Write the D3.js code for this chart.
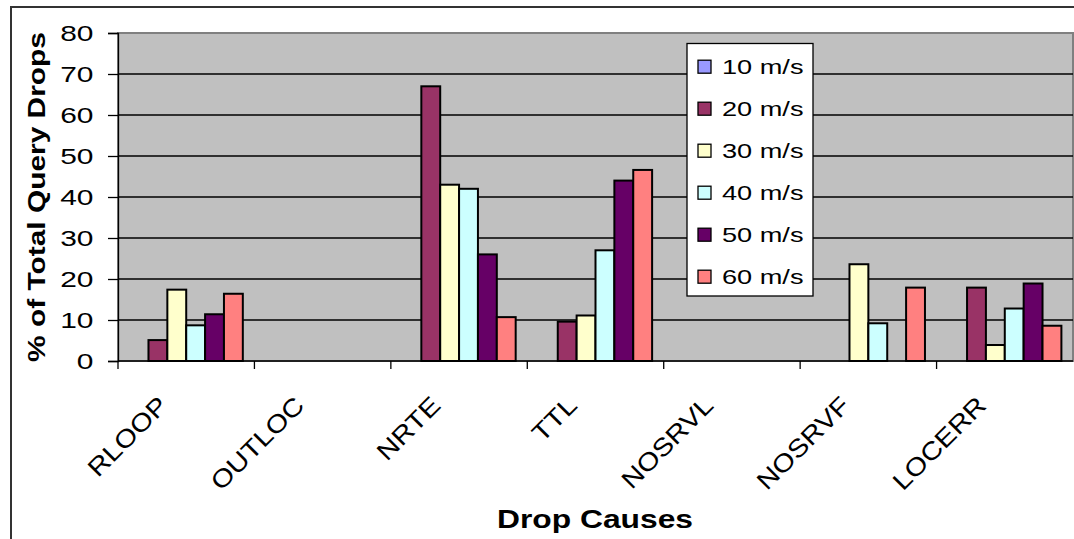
<!DOCTYPE html>
<html>
<head>
<meta charset="utf-8">
<script src="https://cdn.jsdelivr.net/npm/d3@7"></script>
<style>
  body { margin: 0; background: #fff; }
  svg { display: block; }
  text { font-family: "Liberation Sans", Arial, sans-serif; }
</style>
</head>
<body>
<script>
// data
var categories = ["RLOOP", "OUTLOC", "NRTE", "TTL", "NOSRVL", "NOSRVF", "LOCERR"];
var seriesNames = ["10 m/s", "20 m/s", "30 m/s", "40 m/s", "50 m/s", "60 m/s"];
var s10 = [0, 0, 0, 0, 0, 0, 0];
var s20 = [5.1, 0, 67, 9.6, 0, 0, 17.9];
var s30 = [17.4, 0, 43, 11.1, 0, 23.6, 3.9];
var s40 = [8.7, 0, 42, 27, 0, 9.2, 12.8];
var s50 = [11.4, 0, 26, 44, 0, 0, 18.9];
var s60 = [16.4, 0, 10.7, 46.6, 0, 17.9, 8.6];
var yTicks = [0, 10, 20, 30, 40, 50, 60, 70, 80];
var colors = ["#9999FF", "#993366", "#FFFFCC", "#CCFFFF", "#660066", "#FF8080"];

var allSeries = [s10, s20, s30, s40, s50, s60];

var w = 1074;
var h = 539;
var plot = {left: 118, top: 33, right: 1073, bottom: 361};
var sx = 1.36;   // the reference's text is drawn wider than plain Arial
var sxCat = 1.15;

var svg = d3.select("body")
    .append("svg")
    .attr("width", w)
    .attr("height", h);

// outer chart border (runs off the right and bottom)
svg.append("rect")
    .attr("x", 11).attr("y", 7)
    .attr("width", 1100).attr("height", 600)
    .attr("fill", "#fff")
    .attr("stroke", "#333")
    .attr("stroke-width", 2);

var x0 = d3.scaleBand()
    .domain(categories)
    .range([plot.left, plot.right]);

var x1 = d3.scaleBand()
    .domain(seriesNames)
    .range([0, x0.bandwidth()])
    .paddingOuter(0.615);

var y = d3.scaleLinear()
    .domain([0, 80])
    .range([plot.bottom, plot.top]);

// plot area
svg.append("rect")
    .attr("x", plot.left).attr("y", plot.top)
    .attr("width", plot.right - plot.left)
    .attr("height", plot.bottom - plot.top)
    .attr("fill", "#C0C0C0")
    .attr("stroke", "#808080")
    .attr("stroke-width", 2);

// gridlines
svg.append("g")
    .selectAll("line")
    .data(yTicks.filter(d => d > 0 && d < 80))
    .enter()
    .append("line")
    .attr("x1", plot.left).attr("x2", plot.right)
    .attr("y1", d => y(d)).attr("y2", d => y(d))
    .attr("stroke", "#000")
    .attr("stroke-width", 1.3);

// bars
var groups = svg.append("g")
    .selectAll("g")
    .data(allSeries)
    .enter()
    .append("g")
    .attr("fill", (d, i) => colors[i]);

groups.selectAll("rect")
    .data((d, i) => d.map((v, j) => ({v: v, cat: categories[j], s: seriesNames[i]})))
    .enter()
    .filter(d => d.v > 0)
    .append("rect")
    .attr("x", d => x0(d.cat) + x1(d.s))
    .attr("y", d => y(d.v))
    .attr("width", x1.bandwidth())
    .attr("height", d => y(0) - y(d.v))
    .attr("stroke", "#000")
    .attr("stroke-width", 2);

// y axis
var yAxis = d3.axisLeft(y)
    .tickValues(yTicks)
    .tickSize(10)
    .tickPadding(0);

var yg = svg.append("g")
    .attr("transform", "translate(" + plot.left + ",0)")
    .call(yAxis);
yg.select(".domain").attr("stroke", "#000").attr("stroke-width", 1.3);
yg.selectAll(".tick line").attr("stroke", "#000").attr("stroke-width", 1.3);
yg.selectAll(".tick text")
    .attr("x", -24.5 / sx)
    .attr("dy", "0.36em")
    .attr("transform", "scale(" + sx + ",1)")
    .attr("font-size", 22)
    .attr("font-family", "Liberation Sans, Arial, sans-serif")
    .attr("fill", "#000");

// x axis: ticks at category boundaries
var xg = svg.append("g");
xg.append("line")
    .attr("x1", plot.left).attr("x2", plot.right)
    .attr("y1", plot.bottom).attr("y2", plot.bottom)
    .attr("stroke", "#000")
    .attr("stroke-width", 1.3);
xg.selectAll("line.tk")
    .data(categories)
    .enter()
    .append("line")
    .attr("class", "tk")
    .attr("x1", d => x0(d)).attr("x2", d => x0(d))
    .attr("y1", plot.bottom).attr("y2", plot.bottom + 8)
    .attr("stroke", "#000")
    .attr("stroke-width", 1.3);

xg.selectAll("text")
    .data(categories)
    .enter()
    .append("text")
    .attr("text-anchor", "end")
    .attr("font-size", 25)
    .attr("transform", d => "translate(" + (x0(d) + x0.bandwidth() / 2 - 17) + ",407) rotate(-45) scale(" + sxCat + ",1)")
    .text(d => d);

// axis titles
svg.append("text")
    .attr("x", 595).attr("y", 528)
    .attr("text-anchor", "middle")
    .attr("font-size", 25.5)
    .attr("font-weight", "bold")
    .attr("textLength", 196)
    .attr("lengthAdjust", "spacingAndGlyphs")
    .text("Drop Causes");

svg.append("text")
    .attr("transform", "translate(45,197) rotate(-90)")
    .attr("text-anchor", "middle")
    .attr("font-size", 24)
    .attr("font-weight", "bold")
    .attr("textLength", 330)
    .attr("lengthAdjust", "spacingAndGlyphs")
    .text("% of Total Query Drops");

// legend
var legend = svg.append("g");
legend.append("rect")
    .attr("x", 687).attr("y", 43.5)
    .attr("width", 126).attr("height", 252.5)
    .attr("fill", "#fff")
    .attr("stroke", "#000")
    .attr("stroke-width", 1.3);

var items = legend.selectAll("g")
    .data(seriesNames)
    .enter()
    .append("g")
    .attr("transform", (d, i) => "translate(0," + (66.7 + i * 42) + ")");

items.append("rect")
    .attr("x", 698).attr("y", -6.5)
    .attr("width", 13).attr("height", 13)
    .attr("fill", (d, i) => colors[i])
    .attr("stroke", "#000")
    .attr("stroke-width", 1.3);

items.append("text")
    .attr("x", 722).attr("y", 7.6)
    .attr("font-size", 21)
    .attr("textLength", 81.5)
    .attr("lengthAdjust", "spacingAndGlyphs")
    .text(d => d);
</script>
</body>
</html>
